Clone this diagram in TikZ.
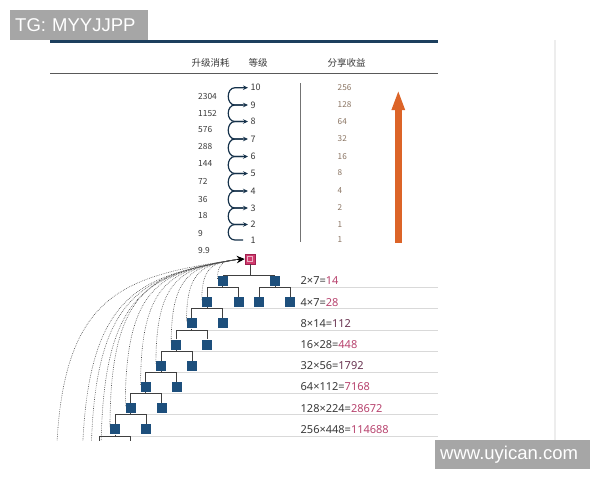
\documentclass[tikz,border=0pt]{standalone}
\usepackage{fontspec}
\setmainfont{Noto Sans CJK SC}
\newfontfamily\wmfont{Liberation Sans}
\newfontfamily\numfont{Noto Sans}
\usetikzlibrary{arrows.meta,calc}
\definecolor{topline}{HTML}{1C3F5E}
\definecolor{sqblue}{HTML}{1D4F7C}
\definecolor{rootpink}{HTML}{CF3A6C}
\definecolor{rootedge}{HTML}{A02050}
\definecolor{resred}{HTML}{B8436E}
\definecolor{resdark}{HTML}{6A3552}
\definecolor{sharecol}{HTML}{8A7462}
\definecolor{txt}{HTML}{3A3A3A}
\definecolor{orangearr}{HTML}{DC6428}
\definecolor{wmgray}{HTML}{A6A6A6}
\newcommand{\res}[1]{\textcolor{resred}{#1}}
\newcommand{\resd}[1]{\textcolor{resdark}{#1}}
\newcommand{\tbranch}[3]{%
  \draw[tl] (#1.south) -- ([yshift=-1.5pt]#1.south);
  \draw[tl] (#2.north) |- ([yshift=-1.5pt]#1.south) -| (#3.north);}
\newcommand{\dotarc}{%
  \draw[arcline] let \p1=(S), \p2=(tip) in (S)
    .. controls (\x1,{\y1+0.85*(\y2-\y1)}) and ({\x2+0.65*(\x1-\x2)},{\y2-0.08*(\y2-\y1)}) .. (tip);}
\begin{document}
\begin{tikzpicture}[x=1pt,y=-1pt,
  hdr/.style={font=\fontsize{9.5}{11}\selectfont, text=txt, inner sep=0.5pt},
  cost/.style={font=\fontsize{8.4}{10}\selectfont, text=txt, anchor=west, inner sep=0.5pt},
  lvl/.style={font=\fontsize{9}{10}\selectfont, text=txt, anchor=west, inner sep=0.5pt},
  share/.style={font=\fontsize{8.2}{10}\selectfont, text=sharecol, anchor=west, inner sep=0.5pt},
  eq/.style={font=\numfont\fontsize{11}{13}\selectfont, text=txt, anchor=west, inner sep=0.5pt},
  sq/.style={fill=sqblue, minimum size=10pt, inner sep=0pt},
  rootbox/.style={fill=rootpink, draw=rootedge, line width=0.6pt, minimum size=10pt, inner sep=0pt,
    path picture={\draw[white!60!rootpink, line width=0.5pt]
      ([shift={(-2.3pt,-2.3pt)}]path picture bounding box.center) rectangle
      ([shift={(2.3pt,2.3pt)}]path picture bounding box.center);}},
  tl/.style={draw=black!75, line width=0.9pt},
  rowline/.style={draw=black!15, line width=0.8pt},
  carrow/.style={draw=topline!80!black, line width=1.2pt, -{Stealth[length=5pt,width=4.5pt]}},
  arcline/.style={draw=black!70, dash pattern=on 0.7pt off 1.1pt, line width=0.6pt},
  wm/.style={fill=wmgray, text=white, font=\wmfont\fontsize{18.5}{20}\selectfont, inner xsep=5pt, inner ysep=0pt, align=left}
]
\useasboundingbox (0,0) rectangle (600,480);
\fill[white] (0,0) rectangle (600,480);

% frame lines
\draw[black!7, line width=1.5pt] (555,40) -- (555,445);
\draw[topline, line width=3pt] (50,41) -- (438,41);
\draw[black!65, line width=1.3pt] (50,73.5) -- (438,73.5);

% headers
\node[hdr] (h1) at (210.7,62.7) {升级消耗};
\node[hdr] (h2) at (258,62.7) {等级};
\node[hdr] (h3) at (346.7,62.7) {分享收益};

% costs
\foreach \v/\y [count=\i] in {2304/96.7,1152/113.5,576/130,288/147,144/164,72/181.5,36/199,18/216,9/233,9.9/250}
  \node[cost] (c\i) at (197.5,\y) {\v};

% levels
\foreach \n/\y in {1/240,2/224.5,3/208,4/191,5/173.5,6/156.5,7/139,8/121.5,9/105,10/87.7}
  \node[lvl] (l\n) at (250,\y) {\n};
\foreach \n [evaluate=\n as \m using int(\n+1)] in {1,...,9}
  \draw[carrow] ([xshift=-7pt]l\n.west) -- ([xshift=-15pt]l\n.west)
    .. controls +(-9,0) and +(-9,0) .. ([xshift=-15pt]l\m.west) -- ([xshift=-2pt]l\m.west);

% separator
\draw[black!55, line width=0.8pt] (300.7,83) -- (300.7,242);

% shares
\foreach \v/\y [count=\i] in {256/87.5,128/105,64/122,32/139,16/156.5,8/173,4/191,2/208,1/224.5,1/240}
  \node[share] (s\i) at (337,\y) {\v};

% orange arrow
\coordinate (ob) at (398.3,242.7);
\coordinate (ot) at (398.3,90);
\draw[orangearr, line width=6.5pt, -{Triangle[length=20pt,width=12pt]}] (ob) -- (ot);

% row lines
\draw[rowline] (290,287.5) -- (438,287.5);
\foreach \k in {2,...,8} {
  \pgfmathsetmacro\xr{207-15.3*(\k-1)+31}
  \pgfmathsetmacro\yb{281+21.2*(\k-1)+6.5}
  \draw[rowline] (\xr,\yb) -- (438,\yb);
}

% tree nodes
\node[rootbox] (root) at (250,259) {};
\node[sq] (L1) at (222.7,281) {};
\node[sq] (R1) at (275,281) {};
\node[sq] (L2) at (207,302.2) {};
\node[sq] (M2) at (238.7,302.2) {};
\node[sq] (N2) at (259,302.2) {};
\node[sq] (R2) at (290,302.2) {};
\foreach \k in {3,...,8} {
  \pgfmathsetmacro\xl{207-15.3*(\k-2)}
  \pgfmathsetmacro\xr{207-15.3*(\k-2)+31}
  \pgfmathsetmacro\yy{281+21.2*(\k-1)}
  \node[sq] (L\k) at (\xl,\yy) {};
  \node[sq] (R\k) at (\xr,\yy) {};
}

\begin{scope}
\clip (0,0) rectangle (600,440);
% dotted arcs
\coordinate (tip) at (237,259.5);
\foreach \k in {1,...,8} {
  \coordinate (S) at ([yshift=-3pt]L\k.north west);
  \dotarc
}
\foreach \sx/\sy in {56/480,82/480,91/470,101/458} {
  \coordinate (S) at (\sx,\sy);
  \dotarc
}
% tree connectors
\draw[tl] (root.south) |- (L1.north);
\draw[tl] (root.south) |- (R1.north);
\tbranch{L1}{L2}{M2}
\tbranch{R1}{N2}{R2}
\foreach \k [evaluate=\k as \m using int(\k+1)] in {2,...,7} {
  \tbranch{L\k}{L\m}{R\m}
}
\coordinate (c9a) at (99.9,445.6);
\coordinate (c9b) at (130.9,445.6);
\draw[tl] (L8.south) -- ([yshift=-1.5pt]L8.south);
\draw[tl] (c9a) |- ([yshift=-1.5pt]L8.south) -| (c9b);
\end{scope}
\draw[black, line width=1pt, -{Stealth[length=8pt,width=7.5pt]}] (tip) -- (root.west);

% equations
\node[eq] (e1) at (300,281) {2×7=\res{14}};
\node[eq] (e2) at (300,302.2) {4×7=\res{28}};
\node[eq] (e3) at (300,323.4) {8×14=\resd{112}};
\node[eq] (e4) at (300,344.6) {16×28=\res{448}};
\node[eq] (e5) at (300,365.8) {32×56=\resd{1792}};
\node[eq] (e6) at (300,387) {64×112=\res{7168}};
\node[eq] (e7) at (300,408.2) {128×224=\res{28672}};
\node[eq] (e8) at (300,429.4) {256×448=\res{114688}};

% watermarks
\node[wm, anchor=north west, minimum height=30pt, text width=128pt] (wm1) at (10,10) {TG: MYYJJPP};
\node[wm, anchor=north west, minimum height=29pt, text width=145pt] (wm2) at (435,440) {www.uyican.com};
\end{tikzpicture}
\end{document}
